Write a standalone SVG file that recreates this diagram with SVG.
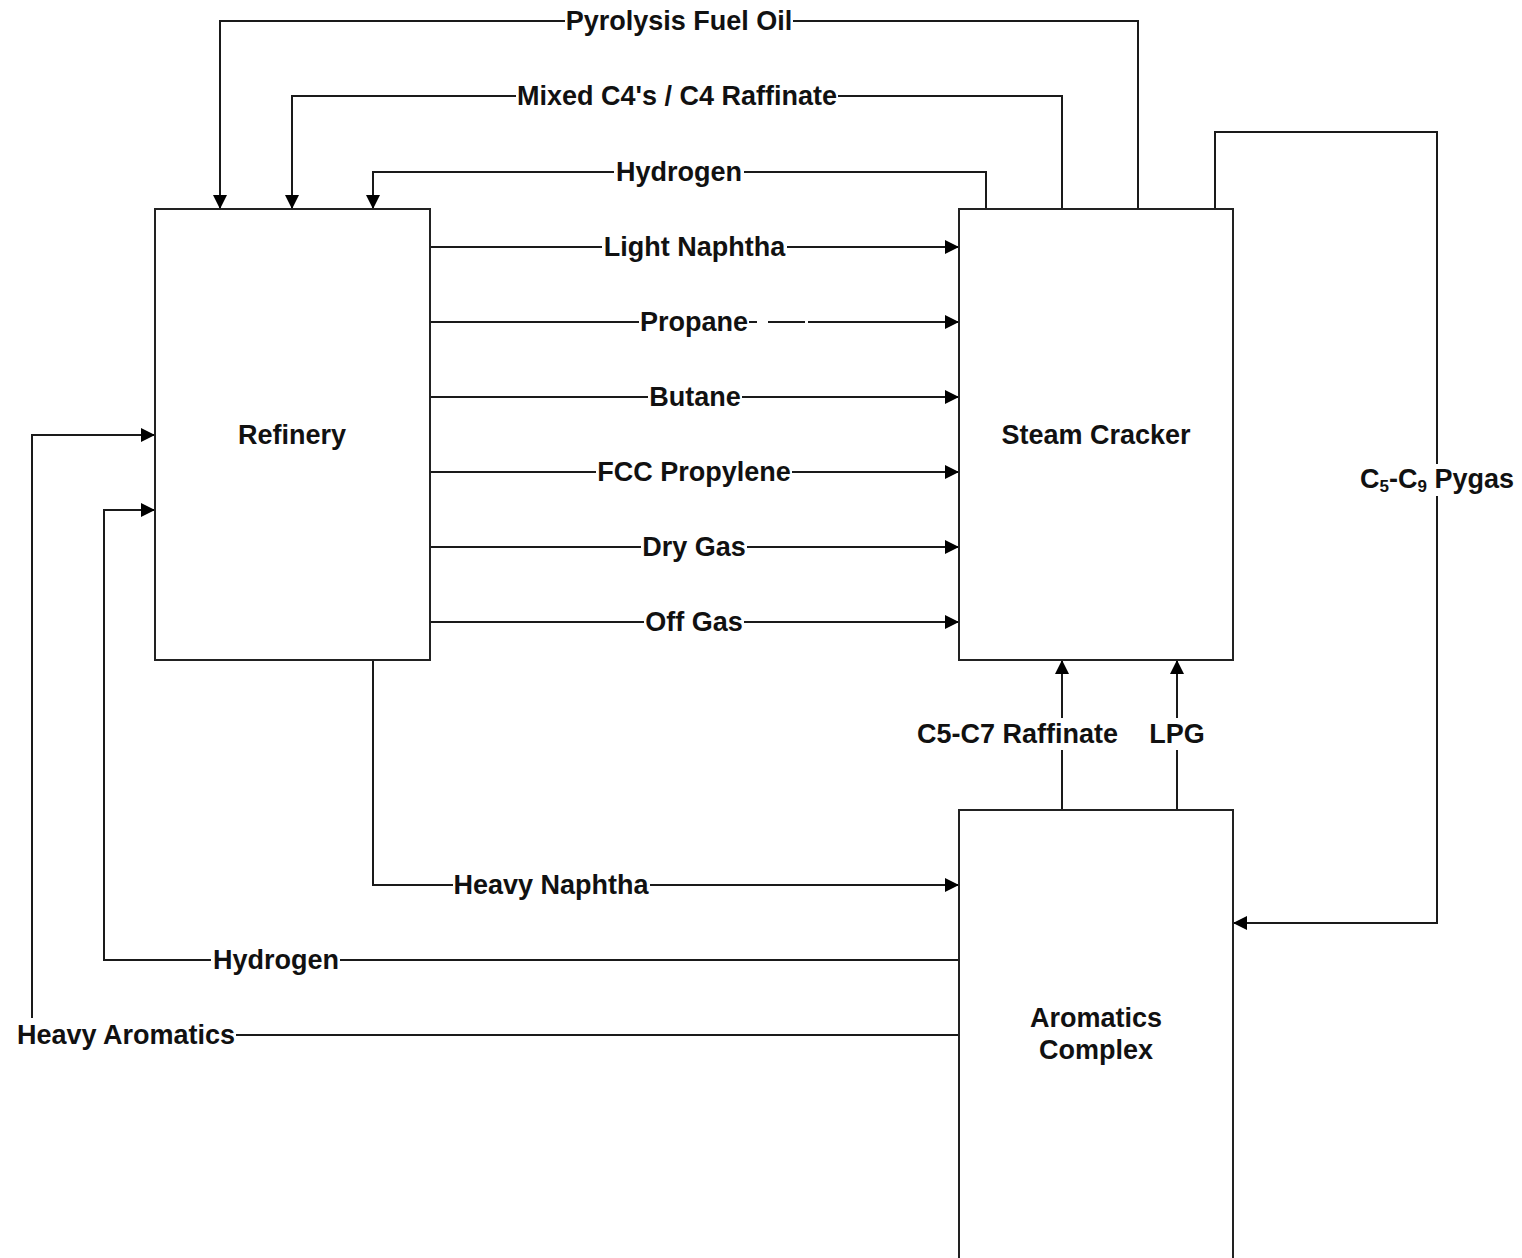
<svg xmlns="http://www.w3.org/2000/svg" width="1522" height="1258" viewBox="0 0 1522 1258">
<style>
.box{fill:#fff;stroke:#222;stroke-width:2}
.ln{fill:none;stroke:#1a1a1a;stroke-width:2}
.arr{marker-end:url(#ah)}
.bg{fill:#fff;stroke:none}
text{font-family:"Liberation Sans",Arial,Helvetica,sans-serif;font-weight:bold;font-size:27px;fill:#111;text-anchor:middle}
</style>
<defs>
<marker id="ah" viewBox="0 0 14 14" refX="14" refY="7" markerWidth="14" markerHeight="14" markerUnits="userSpaceOnUse" orient="auto">
<path d="M0,0 L14,7 L0,14 z" fill="#000"/>
</marker>
</defs>
<rect width="1522" height="1258" fill="#fff"/>
<g id="connectors">
<path class="ln arr" d="M1138,209 V21 H220 V209"/>
<path class="ln arr" d="M1062,209 V96 H292 V209"/>
<path class="ln arr" d="M986,209 V172 H373 V209"/>
<path class="ln arr" d="M430,247 H959"/>
<path class="ln arr" d="M430,322 H959"/>
<path class="ln arr" d="M430,397 H959"/>
<path class="ln arr" d="M430,472 H959"/>
<path class="ln arr" d="M430,547 H959"/>
<path class="ln arr" d="M430,622 H959"/>
<path class="ln arr" d="M1215,209 V132 H1437 V923 H1233"/>
<path class="ln arr" d="M1062,810 V660"/>
<path class="ln arr" d="M1177,810 V660"/>
<path class="ln arr" d="M373,660 V885 H959"/>
<path class="ln arr" d="M959,960 H104 V510 H155"/>
<path class="ln arr" d="M959,1035 H32 V435 H155"/>
<rect class="bg" x="565" y="8" width="228" height="28"/>
<rect class="bg" x="516" y="83" width="322" height="28"/>
<rect class="bg" x="614" y="159" width="130" height="28"/>
<rect class="bg" x="602" y="234" width="185" height="28"/>
<rect class="bg" x="639" y="309" width="110" height="28"/>
<rect class="bg" x="757" y="318" width="11" height="8"/>
<rect class="bg" x="805" y="318" width="3" height="8"/>
<rect class="bg" x="648" y="384" width="94" height="28"/>
<rect class="bg" x="596" y="459" width="196" height="28"/>
<rect class="bg" x="641" y="534" width="106" height="28"/>
<rect class="bg" x="644" y="609" width="100" height="28"/>
<rect class="bg" x="914" y="718" width="207" height="32"/>
<rect class="bg" x="1146" y="718" width="62" height="32"/>
<rect class="bg" x="453" y="872" width="197" height="28"/>
<rect class="bg" x="211" y="947" width="129" height="28"/>
<rect class="bg" x="14" y="1018" width="222" height="34"/>
<rect class="bg" x="1356" y="464" width="161" height="32"/>
<text x="679" y="30">Pyrolysis Fuel Oil</text>
<text x="677" y="105">Mixed C4's / C4 Raffinate</text>
<text x="679" y="181">Hydrogen</text>
<text x="694.5" y="256">Light Naphtha</text>
<text x="694" y="331">Propane</text>
<text x="695" y="406">Butane</text>
<text x="694" y="481">FCC Propylene</text>
<text x="694" y="556">Dry Gas</text>
<text x="694" y="631">Off Gas</text>
<text x="1017.5" y="743">C5-C7 Raffinate</text>
<text x="1177" y="743">LPG</text>
<text x="551" y="894">Heavy Naphtha</text>
<text x="276" y="969">Hydrogen</text>
<text x="126" y="1044">Heavy Aromatics</text>
<text x="1437" y="488">C<tspan font-size="17" dy="4">5</tspan><tspan dy="-4">-C</tspan><tspan font-size="17" dy="4">9</tspan><tspan dy="-4"> Pygas</tspan></text>
</g>
<g id="refinery">
<rect class="box" x="155" y="209" width="275" height="451"/>
<text x="292" y="444">Refinery</text>
</g>
<g id="steam-cracker">
<rect class="box" x="959" y="209" width="274" height="451"/>
<text x="1096" y="444">Steam Cracker</text>
</g>
<g id="aromatics-complex">
<rect class="box" x="959" y="810" width="274" height="470"/>
<text x="1096" y="1027">Aromatics</text>
<text x="1096" y="1059">Complex</text>
</g>
</svg>
